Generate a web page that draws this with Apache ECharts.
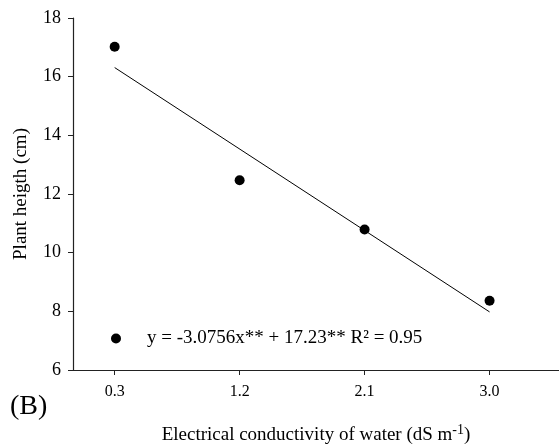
<!DOCTYPE html>
<html>
<head>
<meta charset="utf-8">
<script src="https://cdn.jsdelivr.net/npm/echarts@6/dist/echarts.min.js"></script>
<style>
  html, body { margin: 0; padding: 0; background: #fff; }
  #chart { width: 559px; height: 447px; }
</style>
</head>
<body>
<div id="chart"></div>
<script>
// data
var ecValues = [0.3, 1.2, 2.1, 3.0];
var plantHeight = [17.02, 12.47, 10.79, 8.36];
// fitted line y = -3.0756x + 17.23, endpoints at 0.3 and 3.0
var fitX = [0.3, 3.0];
var fitY = [16.31, 7.98];
var xTicks = [0.3, 1.2, 2.1, 3.0];
var equation = "y = -3.0756x** + 17.23** R\u00b2 = 0.95";

var font = "Liberation Serif";
var points = ecValues.map(function (x, i) { return [x, plantHeight[i]]; });
var fit = fitX.map(function (x, i) { return [x, fitY[i]]; });

var chart = echarts.init(document.getElementById("chart"));
chart.setOption({
    animation: false,
    backgroundColor: "#fff",
    textStyle: {fontFamily: font, color: "#000"},
    grid: {left: 73, right: 0, top: 18, bottom: 77, outerBoundsMode: "none"},
    legend: {
        data: [equation],
        left: 111, top: 329, padding: 0,
        icon: "circle", itemWidth: 10, itemHeight: 10,
        textStyle: {fontFamily: font, fontSize: 19, color: "#000", padding: [0, 0, 0, 21]}
    },
    title: {
        text: "(B)", left: 10, top: 393, padding: 0,
        textStyle: {fontFamily: font, fontSize: 28, fontWeight: "normal", color: "#000"}
    },
    xAxis: {
        type: "value", min: 0, max: 3.5,
        name: "Electrical conductivity of water (dS m{sup|-1})",
        nameLocation: "middle", nameGap: 53,
        nameTextStyle: {
            fontFamily: font, fontSize: 19, color: "#000",
            rich: {sup: {fontFamily: font, fontSize: 14, color: "#000", padding: [0, 0, 10, 0]}}
        },
        axisLine: {lineStyle: {color: "#222", width: 1.2}},
        axisTick: {show: true, length: 5, lineStyle: {color: "#222"}, customValues: xTicks},
        axisLabel: {
            fontFamily: font, fontSize: 16, color: "#000", margin: 14,
            customValues: xTicks,
            formatter: function (v) { return v.toFixed(1); }
        },
        splitLine: {show: false}
    },
    yAxis: {
        type: "value", min: 6, max: 18, interval: 2,
        name: "Plant heigth (cm)",
        nameLocation: "middle", nameGap: 42, nameRotate: 90,
        nameTextStyle: {fontFamily: font, fontSize: 19, color: "#000"},
        axisLine: {show: true, lineStyle: {color: "#222", width: 1.2}},
        axisTick: {show: true, length: 5, lineStyle: {color: "#222"}},
        axisLabel: {fontFamily: font, fontSize: 18, color: "#000", margin: 12},
        splitLine: {show: false}
    },
    series: [{
        name: equation,
        type: "scatter",
        data: points,
        symbol: "circle",
        symbolSize: 10,
        itemStyle: {color: "#000", opacity: 1}
    }, {
        name: "fit",
        type: "line",
        data: fit,
        symbol: "none",
        lineStyle: {color: "#000", width: 1}
    }]
});
</script>
</body>
</html>
